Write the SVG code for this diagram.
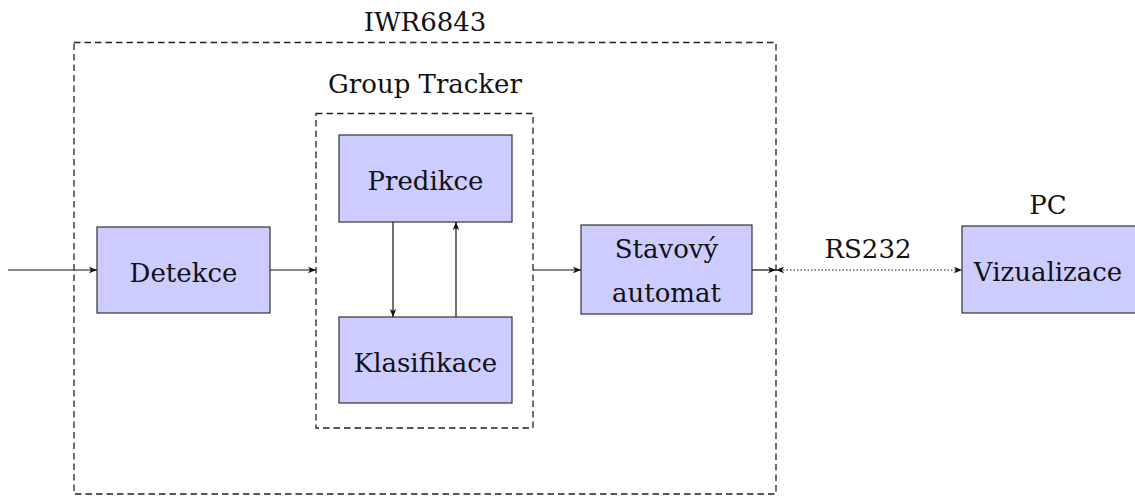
<svg xmlns="http://www.w3.org/2000/svg" width="1135" height="497" viewBox="0 0 1135 497">
<style>
.box{fill:#ccccff;stroke:#333;stroke-width:1.2}
.grp{fill:none;stroke:#222;stroke-width:1.3;stroke-dasharray:6.5 4}
.t{font-family:"DejaVu Serif","Liberation Serif",serif;font-size:26px;fill:#111;text-anchor:middle}
.c{stroke:#111;stroke-width:1.2;fill:none}
.d{stroke:#111;stroke-width:1.2;fill:none;stroke-dasharray:1.5 2}
</style>
<defs>
<marker id="ah" viewBox="0 0 10 10" refX="10" refY="5" markerWidth="8" markerHeight="8" markerUnits="userSpaceOnUse" orient="auto">
<path d="M0,1 L10,5 L0,9 L2.5,5 Z" fill="#111"/>
</marker>
<marker id="as" viewBox="0 0 10 10" refX="10" refY="5" markerWidth="8" markerHeight="8" markerUnits="userSpaceOnUse" orient="auto-start-reverse">
<path d="M0,1 L10,5 L0,9 L2.5,5 Z" fill="#111"/>
</marker>
</defs>
<g id="iwr6843">
<rect class="grp" x="74" y="42.5" width="702" height="451.5"/>
<text class="t" x="425" y="31">IWR6843</text>
</g>
<g id="group-tracker">
<rect class="grp" x="316" y="113.5" width="217" height="314.5"/>
<text class="t" x="425" y="93">Group Tracker</text>
</g>
<g id="detekce">
<rect class="box" x="97" y="227" width="173" height="86"/>
<text class="t" x="183.5" y="282">Detekce</text>
</g>
<g id="predikce">
<rect class="box" x="339" y="135" width="173" height="87"/>
<text class="t" x="425.5" y="190">Predikce</text>
</g>
<g id="klasifikace">
<rect class="box" x="339" y="317" width="173" height="86"/>
<text class="t" x="425.5" y="372">Klasifikace</text>
</g>
<g id="stavovy-automat">
<rect class="box" x="581" y="225" width="171" height="89"/>
<text class="t" x="666.5" y="258">Stavový</text>
<text class="t" x="666.5" y="302">automat</text>
</g>
<g id="pc">
<rect class="box" x="962" y="226" width="180" height="87"/>
<text class="t" x="1048" y="281">Vizualizace</text>
<text class="t" x="1048" y="214">PC</text>
</g>
<g id="connectors">
<line class="c" x1="8" y1="270" x2="97" y2="270" marker-end="url(#ah)"/>
<line class="c" x1="270" y1="270" x2="316" y2="270" marker-end="url(#ah)"/>
<line class="c" x1="533" y1="270" x2="581" y2="270" marker-end="url(#ah)"/>
<line class="c" x1="393" y1="222" x2="393" y2="317" marker-end="url(#ah)"/>
<line class="c" x1="456" y1="317" x2="456" y2="222" marker-end="url(#ah)"/>
<line class="c" x1="752" y1="270" x2="776" y2="270" marker-end="url(#ah)"/>
<line class="d" x1="776" y1="270" x2="962" y2="270" marker-start="url(#as)" marker-end="url(#ah)"/>
<text class="t" x="868" y="258">RS232</text>
</g>
</svg>
